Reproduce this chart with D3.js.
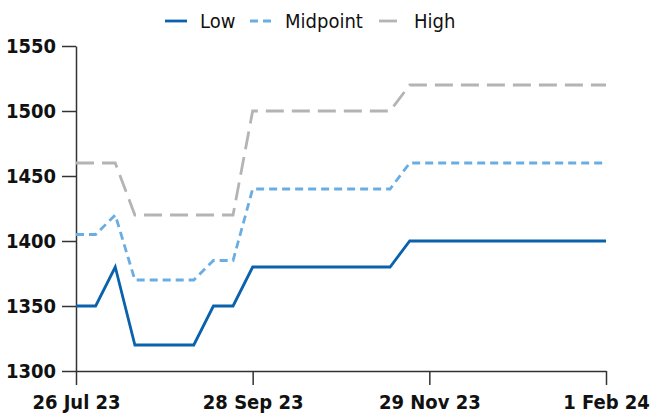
<!DOCTYPE html>
<html>
<head>
<meta charset="utf-8">
<script src="https://cdn.jsdelivr.net/npm/d3@7"></script>
<style>
  body { margin: 0; background: #fff; }
  svg text { font-family: "DejaVu Sans Condensed", "DejaVu Sans", sans-serif; }
</style>
</head>
<body>
<svg id="chart" width="651" height="414"></svg>
<script>
// roughly weekly observation dates
const dates = ["2023-07-26","2023-08-02","2023-08-09","2023-08-16","2023-08-23","2023-08-30","2023-09-06",
  "2023-09-13","2023-09-20","2023-09-28","2023-10-05","2023-10-12","2023-10-19","2023-10-26","2023-11-02",
  "2023-11-09","2023-11-16","2023-11-22","2023-11-29","2023-12-06","2023-12-13","2023-12-20","2023-12-27",
  "2024-01-03","2024-01-10","2024-01-17","2024-01-24","2024-02-01"]
const low = [1350,1350,1380,1320,1320,1320,1320,1350,1350,1380,1380,1380,1380,1380,1380,1380,1380,
  1400,1400,1400,1400,1400,1400,1400,1400,1400,1400,1400]
const midpoint = [1405,1405,1420,1370,1370,1370,1370,1385,1385,1440,1440,1440,1440,1440,1440,1440,1440,
  1460,1460,1460,1460,1460,1460,1460,1460,1460,1460,1460]
const high = [1460,1460,1460,1420,1420,1420,1420,1420,1420,1500,1500,1500,1500,1500,1500,1500,1500,
  1520,1520,1520,1520,1520,1520,1520,1520,1520,1520,1520]
const xTicks = ["2023-07-26","2023-09-28","2023-11-29","2024-02-01"]
const yTicks = [1300,1350,1400,1450,1500,1550]

const series = [
  {name:'Low', values:low, color:'#0a62ac', dash:null},
  {name:'Midpoint', values:midpoint, color:'#69ade3', dash:'8,5'},
  {name:'High', values:high, color:'#b4b4b4', dash:'18,8'}
]

const svg = d3.select('#chart')
const mLeft = 76, mRight = 606, mTop = 46, mBottom = 371

const x = d3.scalePoint().domain(dates).range([mLeft, mRight])
const y = d3.scaleLinear().domain([1300, 1550]).range([mBottom, mTop])
const parse = d3.timeParse('%Y-%m-%d')
const fmt = d3.timeFormat('%-d %b %y')

let xAxis = svg.append('g')
  .attr('transform', `translate(0,${mBottom})`)
  .call(d3.axisBottom(x).tickValues(xTicks).tickSize(14).tickSizeOuter(0).tickPadding(10)
    .tickFormat(d => fmt(parse(d))))
let yAxis = svg.append('g')
  .attr('transform', `translate(${mLeft},0)`)
  .call(d3.axisLeft(y).tickValues(yTicks).tickSize(14).tickSizeOuter(0).tickPadding(6)
    .tickFormat(d3.format('d')))

;[xAxis, yAxis].forEach(a => {
  a.select('.domain').attr('stroke', '#333').attr('stroke-width', 1.5)
  a.selectAll('.tick line').attr('stroke', '#333').attr('stroke-width', 1.5)
  a.selectAll('.tick text').attr('fill', '#111').attr('font-size', 20).attr('font-weight', 'bold')
    .style('font-family', '"DejaVu Sans Condensed", sans-serif')
})

const line = d3.line().x((d, i) => x(dates[i])).y(d => y(d))

svg.append('g').selectAll('path')
  .data(series.slice().reverse())
  .join('path')
  .attr('d', d => line(d.values))
  .attr('fill', 'none')
  .attr('stroke', d => d.color)
  .attr('stroke-width', 2.8)
  .attr('stroke-dasharray', d => d.dash)

// legend
const legendX = [165, 250, 379]
let lg = svg.append('g').selectAll('g').data(series).join('g')
  .attr('transform', (d, i) => `translate(${legendX[i]},21)`)
lg.append('line')
  .attr('x1', 0).attr('x2', 22)
  .attr('stroke', d => d.color).attr('stroke-width', 2.8)
  .attr('stroke-dasharray', d => d.dash)
lg.append('text')
  .attr('x', 35).attr('dy', '0.35em')
  .attr('font-size', 20).attr('fill', '#111')
  .text(d => d.name)
</script>
</body>
</html>
